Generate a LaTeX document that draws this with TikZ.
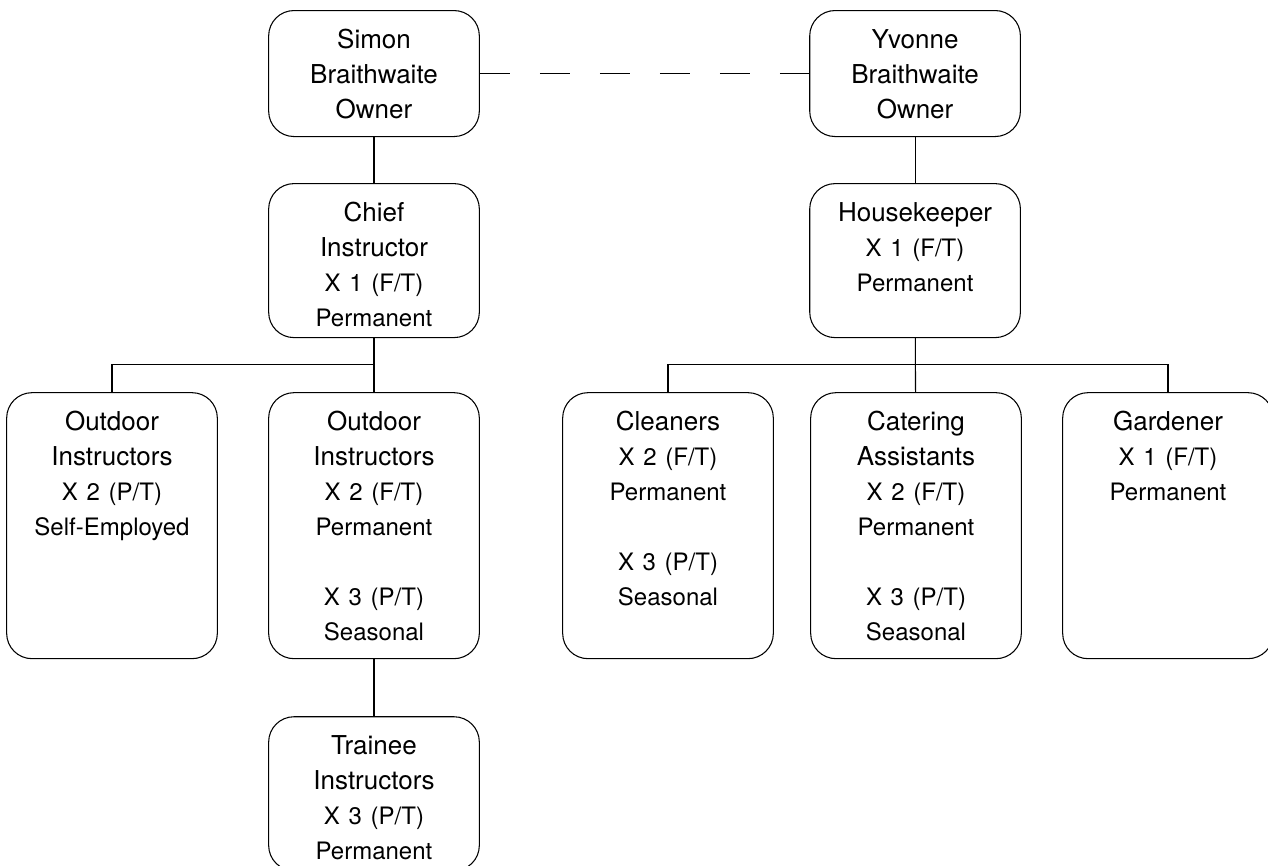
\documentclass[tikz,border=0pt]{standalone}
\usepackage{fontspec}
\setmainfont{TeX Gyre Heros}
\usepackage{tikz}
\usetikzlibrary{positioning}

\newcommand{\termsize}{\fontsize{18pt}{26.25pt}\selectfont}

\tikzset{
    role/.style={draw, line width=0.8pt, rounded corners=19pt, text width=150pt, align=center,
        inner sep=4pt, text height=24.5pt, text depth=#1, font=\fontsize{19.5pt}{26.25pt}\selectfont},
    link/.style={line width=0.8pt}
}

\begin{document}
\begin{tikzpicture}[x=0.75pt, y=0.75pt, node distance=34.5pt]
    \useasboundingbox (0,0) rectangle (1268,-865);

    \node[role=62pt, anchor=north] (simon) at (374,-10) {Simon\\Braithwaite\\Owner};
    \node[role=62pt, right=247pt of simon] (yvonne) {Yvonne\\Braithwaite\\Owner};
    \node[role=83pt, below=of simon] (chief) {Chief\\Instructor\\\termsize X 1 (F/T)\\Permanent};
    \node[role=83pt, below=of yvonne] (housekeeper) {Housekeeper\\\termsize X 1 (F/T)\\Permanent};
    \node[role=167pt, below=40.5pt of chief] (outdoor_perm) {Outdoor\\Instructors\\\termsize X 2 (F/T)\\Permanent\\[26.25pt]X 3 (P/T)\\Seasonal};
    \node[role=167pt, left=37.7pt of outdoor_perm] (outdoor_self) {Outdoor\\Instructors\\\termsize X 2 (P/T)\\Self-Employed};
    \node[role=83pt, below=42.75pt of outdoor_perm] (trainee) {Trainee\\Instructors\\\termsize X 3 (P/T)\\Permanent};
    \node[role=167pt, right=61.7pt of outdoor_perm] (cleaners) {Cleaners\\\termsize X 2 (F/T)\\Permanent\\[26.25pt]X 3 (P/T)\\Seasonal};
    \node[role=167pt, right=27.2pt of cleaners] (catering) {Catering\\Assistants\\\termsize X 2 (F/T)\\Permanent\\[26.25pt]X 3 (P/T)\\Seasonal};
    \node[role=167pt, right=30.2pt of catering] (gardener) {Gardener\\\termsize X 1 (F/T)\\Permanent};

    % forks
    \coordinate [below=20pt of chief] (fork_1) {};
    \coordinate [below=20pt of housekeeper] (fork_2) {};

    \draw[link, dash pattern=on 22.5pt off 22.5pt] (simon) -- (yvonne);
    \draw[link] (simon) -- (chief);
    \draw[link] (yvonne) -- (housekeeper);

    \draw[link] (chief) -- (outdoor_perm);
    \draw[link] (fork_1) -| (outdoor_self);
    \draw[link] (outdoor_perm) -- (trainee);

    \draw[link] (housekeeper) -- (catering);
    \draw[link] (fork_2) -| (cleaners);
    \draw[link] (fork_2) -| (gardener);
\end{tikzpicture}
\end{document}
